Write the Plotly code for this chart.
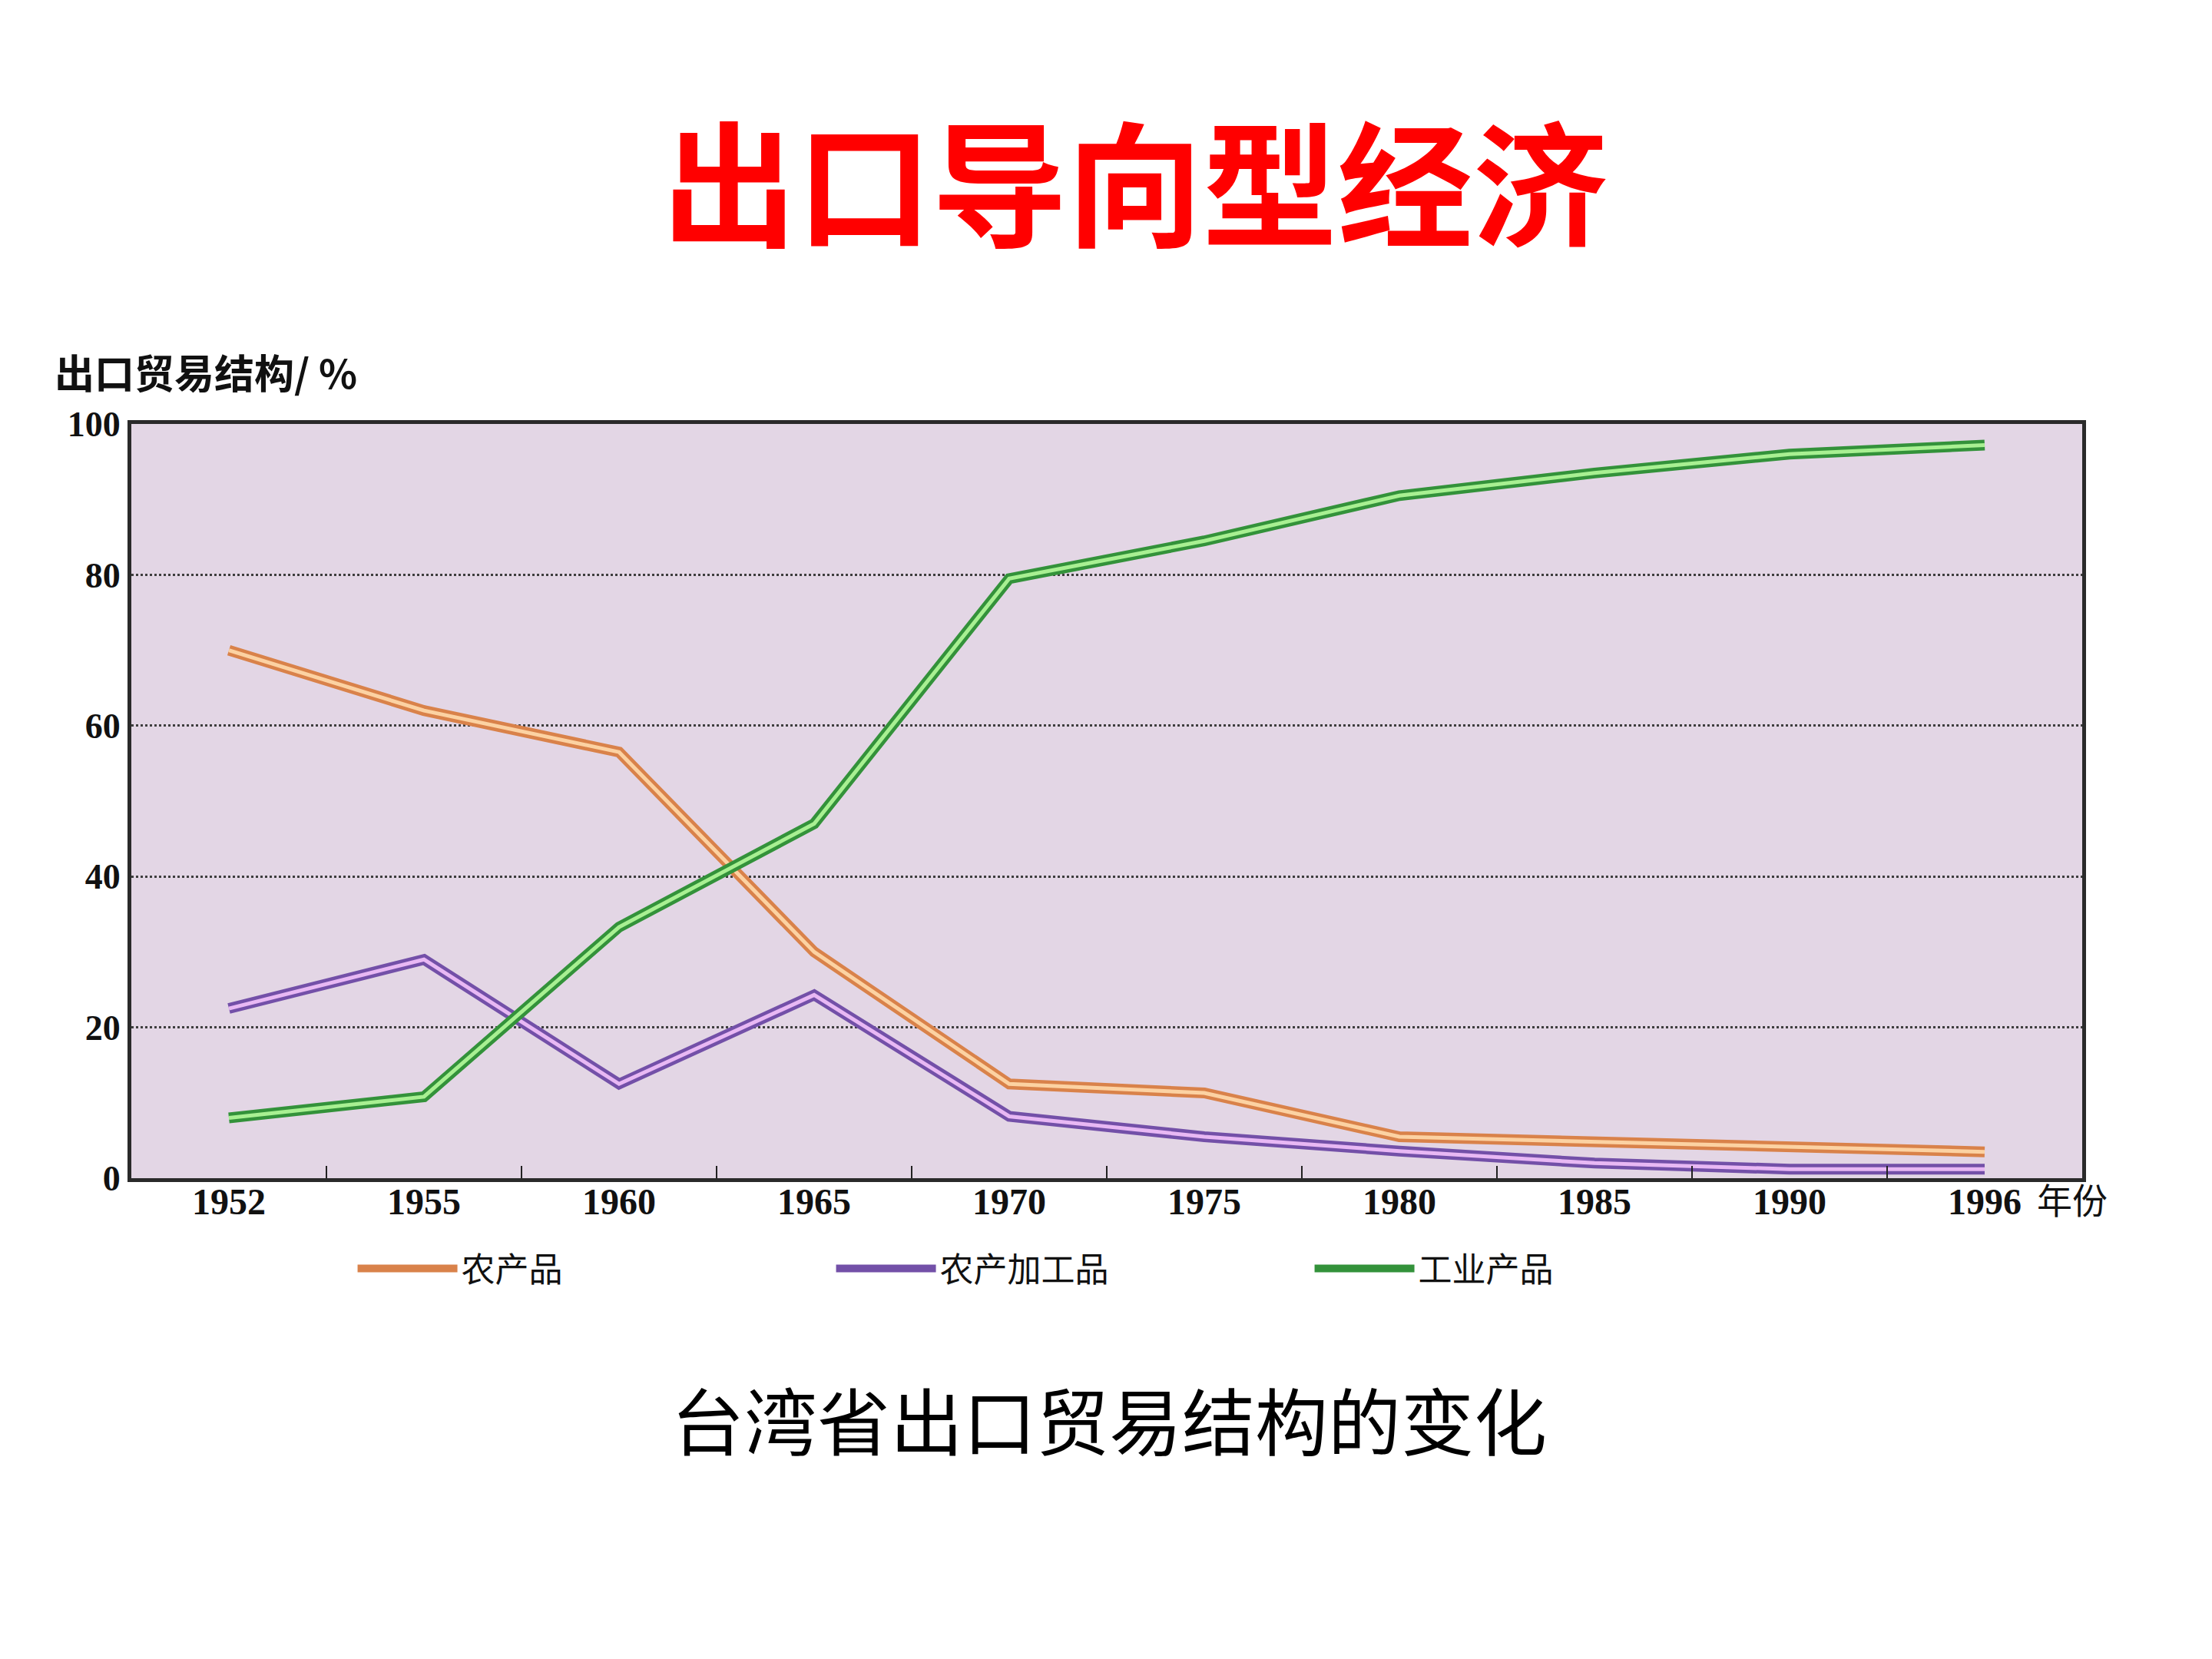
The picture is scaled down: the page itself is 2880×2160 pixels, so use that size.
import plotly.graph_objects as go

years = ["1952", "1955", "1960", "1965", "1970", "1975", "1980", "1985", "1990", "1996"]
agri = [70, 62, 56.5, 30, 12.5, 11.3, 5.5, 4.8, 4.2, 3.5]
agri_proc = [22.5, 29, 12.5, 24.3, 8.2, 5.5, 3.6, 2.0, 1.2, 1.2]
industry = [8, 10.8, 33.3, 47, 79.5, 84.5, 90.5, 93.5, 96, 97.2]
y_ticks = [0, 20, 40, 60, 80, 100]

series = [
    ("农产品", agri, "#d9824a", "#fcd2a2"),
    ("农产加工品", agri_proc, "#7350a8", "#e8b8f4"),
    ("工业产品", industry, "#33923a", "#a8f092"),
]

fig = go.Figure()
for name, vals, dark, light in series:
    fig.add_trace(go.Scatter(x=years, y=vals, mode="lines", name=name,
                             line=dict(color=dark, width=14), legendgroup=name))
    fig.add_trace(go.Scatter(x=years, y=vals, mode="lines", name=name,
                             line=dict(color=light, width=5), legendgroup=name,
                             showlegend=False, hoverinfo="skip"))

fig.update_layout(
    width=2880, height=2160,
    margin=dict(l=171, r=169, t=552, b=626),
    paper_bgcolor="white",
    plot_bgcolor="#e3d6e5",
    title=dict(text="<b>出口导向型经济</b>", x=0.513, xanchor="center",
               y=0.886, yanchor="middle", yref="container",
               font=dict(family="Noto Sans CJK SC", size=176, color="#ff0000")),
    legend=dict(orientation="h", x=0.114, xanchor="left", y=-0.12, yanchor="middle",
                font=dict(family="Noto Sans CJK SC", size=44, color="#111"),
                itemwidth=130, entrywidth=478, bgcolor="rgba(0,0,0,0)"),
    showlegend=True,
)

fig.update_xaxes(
    type="category", range=[-0.5, 9.5],
    showline=True, linecolor="#2a2a2a", linewidth=5, mirror=True,
    showgrid=False, tickson="boundaries", ticks="inside", ticklen=16,
    tickwidth=2, tickcolor="#222", ticklabelstandoff=-16,
    tickfont=dict(family="Liberation Serif", size=48, color="#111", weight="bold"),
)
fig.update_yaxes(
    range=[0, 100], tickvals=y_ticks,
    showline=True, linecolor="#2a2a2a", linewidth=5, mirror=True,
    showgrid=True, gridcolor="#3e3e3e", gridwidth=2.5, griddash="dot",
    zeroline=False, ticks="",
    tickfont=dict(family="Liberation Serif", size=46, color="#111", weight="bold"),
)

fig.add_annotation(text="<b>出口贸易结构/ %</b>", xref="paper", yref="paper",
                   x=-0.04, y=1.07, xanchor="left", yanchor="middle", showarrow=False,
                   font=dict(family="Noto Sans CJK SC", size=52, color="#111"))
fig.add_annotation(text="年份", xref="paper", yref="paper",
                   x=0.995, y=-0.026, xanchor="center", yanchor="middle", showarrow=False,
                   font=dict(family="Noto Sans CJK SC", size=46, color="#111"))
fig.add_annotation(text="台湾省出口贸易结构的变化", xref="paper", yref="paper",
                   x=0.501, y=-0.318, xanchor="center", yanchor="middle", showarrow=False,
                   font=dict(family="Noto Sans CJK SC", size=95, color="#000"))

fig.write_html("out.html")
